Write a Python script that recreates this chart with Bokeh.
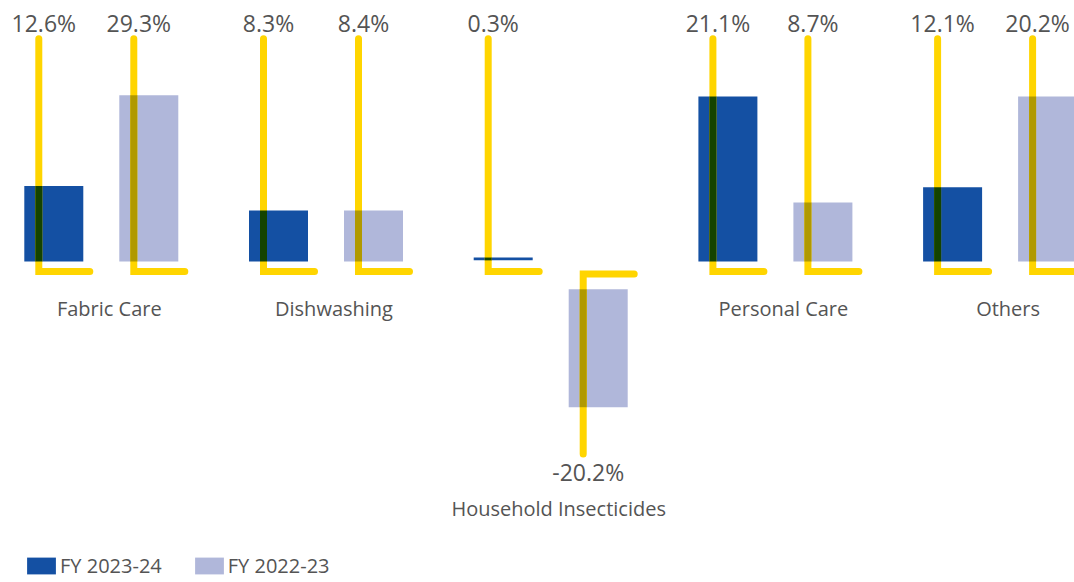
import numpy as np
from bokeh.plotting import figure
from bokeh.models import Range1d, Legend, LegendItem
from bokeh.core.properties import value
from bokeh.embed import file_html
from bokeh.resources import INLINE

# ---- data ----
categories = ["Fabric Care", "Dishwashing", "Household Insecticides", "Personal Care", "Others"]
series = ["FY 2023-24", "FY 2022-23"]
# growth labels shown on the chart (%)
fy2324_label = [12.6, 8.3, 0.3, 21.1, 12.1]
fy2223_label = [29.3, 8.4, -20.2, 8.7, 20.2]
# bar extents as drawn in the picture (% scale)
fy2324_top = [13.3, 9.0, 0.7, 29.1, 13.1]
fy2324_bottom = [0.0, 0.0, 0.2, 0.0, 0.0]
fy2223_top = [29.3, 9.0, -4.9, 10.4, 29.1]
fy2223_bottom = [0.0, 0.0, -25.7, 0.0, 0.0]

# ---- styles ----
BLUE = "#1450A3"
LAV = "#B0B7DA"
GOLD = "#FFD500"
FONT = "Open Sans"
TXT = "#545454"


def multiply(c1, c2):
    a = [int(c1[i:i + 2], 16) for i in (1, 3, 5)]
    b = [int(c2[i:i + 2], 16) for i in (1, 3, 5)]
    return "#%02x%02x%02x" % tuple(int(round(x * y / 255)) for x, y in zip(a, b))


W, H = 1074, 582
PX = 224.7          # px per category unit
x0 = -100.8 / PX
x1 = x0 + W / PX
YPX = 5.67          # px per % unit
y1 = 261 / YPX
y0 = y1 - H / YPX

p = figure(width=W, height=H, x_range=Range1d(x0, x1), y_range=Range1d(y0, y1),
           x_axis_type=None, y_axis_type=None, toolbar_location=None,
           output_backend="svg", min_border=0, outline_line_color=None)
p.grid.visible = False

xs = np.arange(len(categories), dtype=float)
dodge = 47.5 / PX
bw = 59 / PX

renderers = []
for k, (tops, bots, labels, col) in enumerate([
        (fy2324_top, fy2324_bottom, fy2324_label, BLUE),
        (fy2223_top, fy2223_bottom, fy2223_label, LAV)]):
    bx = xs + (-dodge if k == 0 else dodge)
    r = p.vbar(x=bx, width=bw, top=tops, bottom=bots, fill_color=col, line_color=None)
    renderers.append(r)

    # leader lines
    lx = bx - 15 / PX
    hx = bx + 36 / PX
    lxs, lys = [], []
    for i, v in enumerate(labels):
        lxs.append([lx[i], lx[i], hx[i]])
        if v >= 0:
            lys.append([39.3, -1.76, -1.76])
        else:
            lys.append([-33.95, -2.2, -2.2])
    p.multi_line(xs=lxs, ys=lys, line_color=GOLD, line_width=7,
                 line_cap="round", line_join="miter")
    # overlap of leader with bar (multiply look)
    p.vbar(x=lx, width=7 / PX, top=tops, bottom=bots,
           fill_color=multiply(col, GOLD), line_color=None)

    # value labels
    ly = [42.1 if v >= 0 else -37.1 for v in labels]
    p.text(x=bx - 10 / PX, y=ly, text=[f"{v}%" for v in labels],
           text_font=value(FONT), text_font_size="23px", text_color=TXT,
           text_align="center", text_baseline="middle")

# category labels
cat_y = [-43.6 if min(a, b) < 0 else -8.3 for a, b in zip(fy2324_label, fy2223_label)]
p.text(x=xs + 8 / PX, y=cat_y, text=categories, text_font=value(FONT),
       text_font_size="20px", text_color=TXT, text_align="center",
       text_baseline="middle")

legend = Legend(items=[LegendItem(label=series[0], renderers=[renderers[0]]),
                       LegendItem(label=series[1], renderers=[renderers[1]])],
                orientation="horizontal", location=(23, 3),
                glyph_width=36, glyph_height=21, label_standoff=1, spacing=29,
                padding=0, margin=0, border_line_color=None,
                background_fill_alpha=0, label_text_font=FONT,
                label_text_font_size="20px", label_text_color=TXT,
                label_height=21)
p.add_layout(legend)

open("out.html", "w").write(file_html(p, INLINE))
